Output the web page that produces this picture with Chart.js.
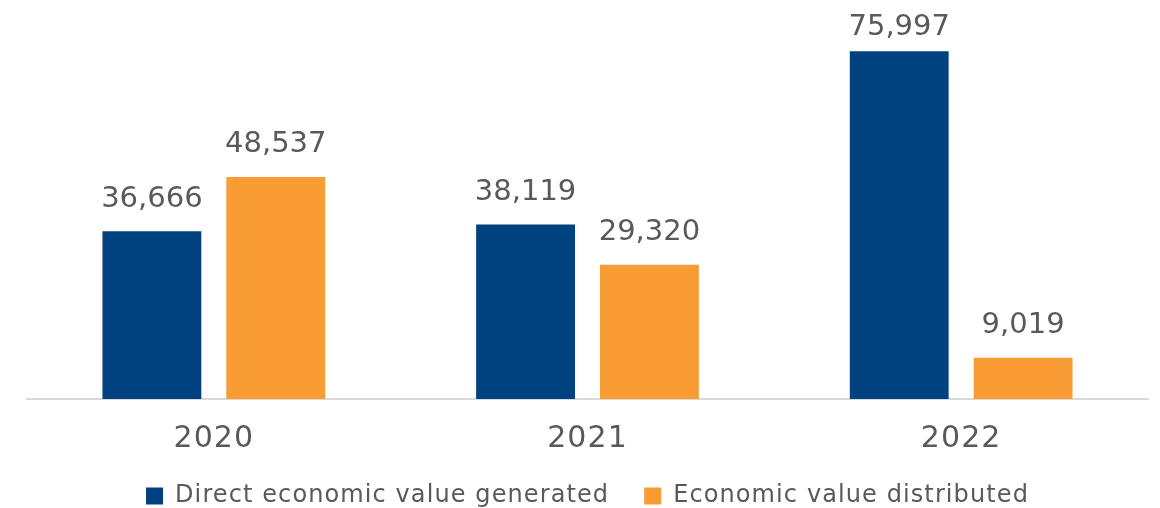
<!DOCTYPE html>
<html>
<head>
<meta charset="utf-8">
<script src="https://cdn.jsdelivr.net/npm/chart.js@4.4.0/dist/chart.umd.min.js"></script>
<style>
  html, body { margin: 0; padding: 0; background: #fff; }
  #wrap { width: 1160px; height: 508px; }
</style>
</head>
<body>
<div id="wrap"><canvas id="valueChart"></canvas></div>
<script>
const years = ['2020', '2021', '2022'];
const generated = [36666, 38119, 75997];
const distributed = [48537, 29320, 9019];
const seriesNames = ['Direct economic value generated', 'Economic value distributed'];

const textGray = '#595959';
const fontFamily = '"DejaVu Sans", sans-serif';

// a bit of tracking on axis + legend text, like the original
const tracking = {
  id: 'tracking',
  beforeUpdate(chart) { chart.ctx.letterSpacing = '1.1px'; },
  beforeDraw(chart) { chart.ctx.letterSpacing = '1.1px'; }
};

// value labels above each bar
const valueLabels = {
  id: 'valueLabels',
  afterDatasetsDraw(chart) {
    const ctx = chart.ctx;
    ctx.save();
    ctx.letterSpacing = '0px';
    ctx.font = '29px ' + fontFamily;
    ctx.fillStyle = textGray;
    ctx.textAlign = 'center';
    ctx.textBaseline = 'middle';
    chart.data.datasets.forEach((ds, i) => {
      chart.getDatasetMeta(i).data.forEach((bar, j) => {
        const y = Math.max(bar.y - 32, 27);
        ctx.fillText(ds.data[j].toLocaleString('en-US'), bar.x, y);
      });
    });
    ctx.restore();
  }
};

new Chart(document.getElementById('valueChart'), {
  type: 'bar',
  data: {
    labels: years,
    datasets: [
      { label: seriesNames[0], data: generated, backgroundColor: '#00427f' },
      { label: seriesNames[1], data: distributed, backgroundColor: '#f89c33' }
    ]
  },
  options: {
    responsive: true,
    maintainAspectRatio: false,
    animation: false,
    layout: { padding: { left: 27, right: 12, top: 0, bottom: -10 } },
    datasets: {
      bar: { categoryPercentage: 0.663, barPercentage: 0.798 }
    },
    scales: {
      x: {
        grid: { display: false, drawTicks: false },
        border: { display: true, color: '#d9d9d9', width: 2 },
        ticks: { padding: 22, color: textGray, font: { size: 30, family: fontFamily } },
        afterFit(scale) { scale.height -= 30; }
      },
      y: { display: false, min: 0, max: 87200 }
    },
    plugins: {
      legend: {
        position: 'bottom',
        labels: {
          boxWidth: 17,
          boxHeight: 17,
          padding: 35,
          color: textGray,
          font: { size: 24, family: fontFamily }
        }
      },
      tooltip: { enabled: false }
    }
  },
  plugins: [tracking, valueLabels]
});
</script>
</body>
</html>
